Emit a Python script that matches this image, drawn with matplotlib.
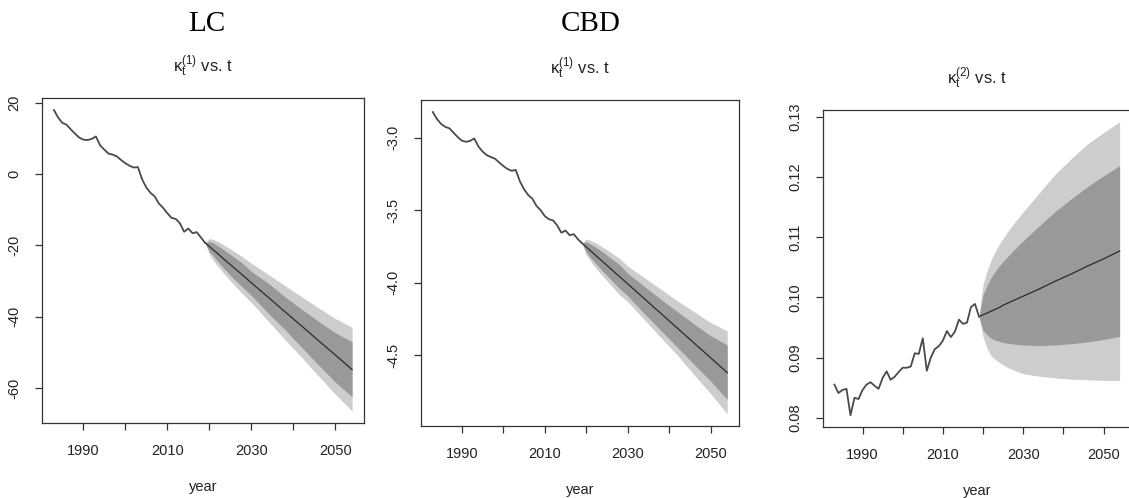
import matplotlib
matplotlib.use("Agg")
import matplotlib.pyplot as plt

plt.rcParams['font.family'] = ['Liberation Sans', 'DejaVu Sans']
plt.rcParams['mathtext.fontset'] = 'custom'
plt.rcParams['mathtext.rm'] = 'Liberation Sans'
plt.rcParams['mathtext.it'] = 'Liberation Sans:italic'

# ---------------- data ----------------
hist_years = list(range(1983, 2020))

lc_k1 = [17.9, 15.8, 14.3, 13.8, 12.5, 11.3, 10.2, 9.6, 9.5, 9.8, 10.5, 8.0, 6.8,
         5.7, 5.4, 4.9, 3.9, 3.0, 2.3, 1.8, 1.9, -1.5, -3.8, -5.3, -6.3, -8.3,
         -9.5, -11.0, -12.3, -12.6, -13.8, -16.2, -15.3, -16.6, -16.3, -17.8, -19.3]

cbd_k1 = [-2.823, -2.870, -2.905, -2.925, -2.935, -2.965, -2.995, -3.020, -3.028,
          -3.022, -3.005, -3.060, -3.095, -3.120, -3.133, -3.145, -3.170, -3.195,
          -3.215, -3.228, -3.222, -3.300, -3.355, -3.395, -3.420, -3.470, -3.500,
          -3.540, -3.562, -3.570, -3.605, -3.655, -3.640, -3.672, -3.665, -3.700, -3.728]

cbd_k2 = [0.0855, 0.0841, 0.0846, 0.0848, 0.0804, 0.0833, 0.0831, 0.0846, 0.0855,
          0.0859, 0.0853, 0.0848, 0.0866, 0.0877, 0.0863, 0.0868, 0.0876, 0.0883,
          0.0883, 0.0885, 0.0907, 0.0906, 0.0932, 0.0878, 0.0900, 0.0914, 0.0919,
          0.0928, 0.0944, 0.0934, 0.0943, 0.0963, 0.0956, 0.0958, 0.0984, 0.0989, 0.0968]

fc_years = [2019, 2020, 2021, 2022, 2023, 2024, 2025, 2026, 2028, 2030,
            2034, 2038, 2042, 2046, 2050, 2054]

lc_mean = [-19.3, -20.3, -21.3, -22.3, -23.4, -24.4, -25.4, -26.4, -28.4, -30.5,
           -34.5, -38.6, -42.6, -46.7, -50.7, -54.8]
lc_hi95 = [-19.3, -18.1, -18.4, -18.9, -19.6, -20.3, -21.0, -21.8, -23.3, -25.0,
           -28.1, -31.3, -34.4, -37.5, -40.5, -43.0]
lc_hi80 = [-19.3, -18.9, -19.4, -20.1, -20.9, -21.7, -22.5, -23.4, -25.1, -27.3,
           -30.6, -34.4, -37.9, -41.3, -44.5, -47.0]
lc_lo80 = [-19.3, -21.7, -23.0, -24.5, -25.8, -27.1, -28.4, -29.6, -31.8, -34.0,
           -39.0, -43.6, -48.6, -53.5, -58.3, -62.4]
lc_lo95 = [-19.3, -22.5, -24.3, -25.8, -27.2, -28.6, -29.9, -31.2, -33.7, -36.0,
           -41.2, -46.4, -51.4, -56.6, -61.7, -66.4]

cbd1_mean = [-3.728, -3.753, -3.779, -3.804, -3.830, -3.855, -3.881, -3.906, -3.957, -4.008,
             -4.110, -4.212, -4.314, -4.416, -4.518, -4.620]
cbd1_hi95 = [-3.728, -3.699, -3.708, -3.721, -3.737, -3.755, -3.774, -3.793, -3.832, -3.885,
             -3.965, -4.045, -4.125, -4.200, -4.275, -4.332]
cbd1_hi80 = [-3.728, -3.718, -3.732, -3.750, -3.769, -3.789, -3.810, -3.832, -3.875, -3.935,
             -4.025, -4.115, -4.200, -4.285, -4.365, -4.430]
cbd1_lo80 = [-3.728, -3.788, -3.826, -3.858, -3.890, -3.921, -3.951, -3.980, -4.039, -4.090,
             -4.213, -4.329, -4.446, -4.563, -4.678, -4.805]
cbd1_lo95 = [-3.728, -3.807, -3.850, -3.887, -3.922, -3.955, -3.987, -4.019, -4.082, -4.130,
             -4.255, -4.378, -4.500, -4.635, -4.765, -4.905]

cbd2_mean = [0.0968, 0.0971, 0.0974, 0.0977, 0.0980, 0.0983, 0.0987, 0.0990, 0.0996, 0.1002,
             0.1014, 0.1027, 0.1039, 0.1052, 0.1064, 0.1077]
cbd2_hi95 = [0.0968, 0.1021, 0.1044, 0.1062, 0.1076, 0.1088, 0.1098, 0.1108, 0.1126, 0.1142,
             0.1174, 0.1205, 0.1231, 0.1255, 0.1274, 0.1292]
cbd2_hi80 = [0.0968, 0.1004, 0.1020, 0.1033, 0.1043, 0.1052, 0.1060, 0.1067, 0.1081, 0.1094,
             0.1119, 0.1143, 0.1164, 0.1184, 0.1202, 0.1219]
cbd2_lo80 = [0.0968, 0.0945, 0.0938, 0.0932, 0.0929, 0.0927, 0.0925, 0.0924, 0.0922, 0.0921,
             0.0920, 0.0921, 0.0923, 0.0926, 0.0930, 0.0935]
cbd2_lo95 = [0.0968, 0.0935, 0.0915, 0.0903, 0.0897, 0.0892, 0.0888, 0.0884, 0.0878, 0.0873,
             0.0869, 0.0866, 0.0864, 0.0863, 0.0862, 0.0862]

xticks = [1990, 2000, 2010, 2020, 2030, 2040, 2050]
xticklabels = ['1990', '', '2010', '', '2030', '', '2050']

panels = [
    dict(hist=lc_k1, mean=lc_mean, hi95=lc_hi95, hi80=lc_hi80, lo80=lc_lo80, lo95=lc_lo95,
         title=r'$\mathregular{\kappa_t^{(1)}}$ vs. t',
         yticks=[-60, -40, -20, 0, 20], yfmt='{:.0f}',
         rect=[42, 98, 364, 423]),
    dict(hist=cbd_k1, mean=cbd1_mean, hi95=cbd1_hi95, hi80=cbd1_hi80, lo80=cbd1_lo80, lo95=cbd1_lo95,
         title=r'$\mathregular{\kappa_t^{(1)}}$ vs. t',
         yticks=[-4.5, -4.0, -3.5, -3.0], yfmt='{:.1f}',
         rect=[421, 100, 739, 426]),
    dict(hist=cbd_k2, mean=cbd2_mean, hi95=cbd2_hi95, hi80=cbd2_hi80, lo80=cbd2_lo80, lo95=cbd2_lo95,
         title=r'$\mathregular{\kappa_t^{(2)}}$ vs. t',
         yticks=[0.08, 0.09, 0.10, 0.11, 0.12, 0.13], yfmt='{:.2f}',
         rect=[823, 110, 1131, 427]),
]

W, H = 1129, 498
fig = plt.figure(figsize=(W / 100, H / 100), dpi=100)

LIGHT = '#cdcdcd'
DARK = '#999999'
FS = 10.5

for p in panels:
    x0, y0, x1, y1 = p['rect']
    ax = fig.add_axes([x0 / W, 1 - y1 / H, (x1 - x0) / W, (y1 - y0) / H])
    ax.fill_between(fc_years, p['lo95'], p['hi95'], color=LIGHT, linewidth=0)
    ax.fill_between(fc_years, p['lo80'], p['hi80'], color=DARK, linewidth=0)
    ax.plot(fc_years, p['mean'], color='#2a2a2a', linewidth=0.9)
    ax.plot(hist_years, p['hist'], color='#4a4a4a', linewidth=1.3)

    # R-style 4% axis padding
    xmin, xmax = hist_years[0], fc_years[-1]
    xr = xmax - xmin
    ax.set_xlim(xmin - 0.04 * xr, xmax + 0.04 * xr)
    allv = p['hist'] + p['lo95'] + p['hi95']
    ymin, ymax = min(allv), max(allv)
    yr = ymax - ymin
    ax.set_ylim(ymin - 0.04 * yr, ymax + 0.04 * yr)

    ax.set_xticks(xticks)
    ax.set_xticklabels(xticklabels)
    ax.set_yticks(p['yticks'])
    ax.set_yticklabels([p['yfmt'].format(v) for v in p['yticks']])
    ax.tick_params(axis='both', direction='out', length=5, width=0.9,
                   color='#333333', labelsize=FS, labelcolor='#222222', pad=10)
    ax.tick_params(axis='y', labelrotation=90)
    for lab in ax.get_yticklabels():
        lab.set_va('center')
    for s in ax.spines.values():
        s.set_linewidth(0.9)
        s.set_color('#333333')
    ax.set_xlabel('year', fontsize=FS, color='#222222', labelpad=16)
    ax.set_title(p['title'], fontsize=12, color='#222222', pad=19)

fig.text(207 / W, 1 - 24 / H, 'LC', fontfamily='Liberation Serif', fontsize=21,
         ha='center', va='center')
fig.text(591 / W, 1 - 24 / H, 'CBD', fontfamily='Liberation Serif', fontsize=21,
         ha='center', va='center')

fig.savefig('out.png', dpi=100, facecolor='white')
